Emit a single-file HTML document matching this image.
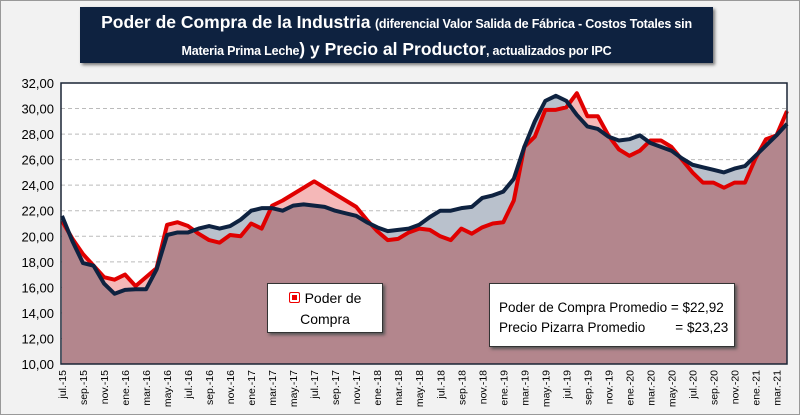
<!DOCTYPE html>
<html><head><meta charset="utf-8"><style>
body{margin:0;background:#fff;font-family:"Liberation Sans",sans-serif}
#wrap{position:relative;width:800px;height:415px;background:#f2f2f2;border:1px solid #999;box-sizing:border-box;overflow:hidden}
#title{position:absolute;left:79px;top:6px;width:633px;height:56px;background:#0e2240;color:#fff;text-align:center;font-weight:bold;box-shadow:2px 2px 3px #777}
.ln{white-space:nowrap;line-height:25px}
.ln1{margin-top:3px}
.b{font-size:17.5px}.s{font-size:12.5px;letter-spacing:-0.2px}
.box{position:absolute;background:#fff;border:1px solid #333;box-shadow:2px 2px 3px #555;color:#000}
</style></head><body>
<div id="wrap">
<div id="title"><div class="ln ln1"><span class="b">Poder de Compra de la Industria</span> <span class="s">(diferencial Valor Salida de Fábrica - Costos Totales sin</span></div><div class="ln"><span class="s">Materia Prima Leche</span><span class="b">) y Precio al Productor</span><span class="s">, actualizados por IPC</span></div></div>
<svg id="svg" width="800" height="415" style="position:absolute;left:0;top:0"></svg>
<div class="box" style="left:266px;top:282px;width:116px;height:50px;font-size:14px;text-align:center;line-height:21px;padding-top:4px;box-sizing:border-box"><span style="display:inline-block;width:9px;height:9px;background:#e00;border:1px solid #e00;border-radius:2px;box-shadow:inset 0 0 0 2px #fff;margin-right:5px"></span>Poder de<br>Compra</div>
<div class="box" style="left:488px;top:282px;width:246px;height:64px;font-size:13.5px;line-height:20px;padding:14px 0 0 9px;box-sizing:border-box;white-space:pre">Poder de Compra Promedio = $22,92
Precio Pizarra Promedio        = $23,23</div>
</div>
<script>
const labels=["jul.-15","sep.-15","nov.-15","ene.-16","mar.-16","may.-16","jul.-16","sep.-16","nov.-16","ene.-17","mar.-17","may.-17","jul.-17","sep.-17","nov.-17","ene.-18","mar.-18","may.-18","jul.-18","sep.-18","nov.-18","ene.-19","mar.-19","may.-19","jul.-19","sep.-19","nov.-19","ene.-20","mar.-20","may.-20","jul.-20","sep.-20","nov.-20","ene.-21","mar.-21"];
const yTicks=[10,12,14,16,18,20,22,24,26,28,30,32];
const poder=[21.2,19.8,18.6,17.7,16.8,16.6,17.0,16.1,16.8,17.5,20.9,21.1,20.8,20.2,19.7,19.5,20.1,20.0,21.0,20.6,22.4,22.8,23.3,23.8,24.3,23.8,23.3,22.8,22.3,21.3,20.4,19.7,19.8,20.3,20.6,20.5,20.0,19.7,20.6,20.2,20.7,21.0,21.1,22.8,27.0,27.8,29.9,29.9,30.1,31.2,29.4,29.4,27.9,26.8,26.3,26.7,27.5,27.5,27.0,26.0,25.0,24.2,24.2,23.8,24.2,24.2,26.1,27.6,27.9,29.8];
const precio=[21.6,19.6,17.9,17.7,16.3,15.5,15.8,15.85,15.85,17.4,20.1,20.3,20.3,20.6,20.8,20.6,20.8,21.3,22.0,22.2,22.2,22.0,22.4,22.5,22.4,22.3,22.0,21.8,21.6,21.1,20.7,20.4,20.5,20.6,20.9,21.5,22.0,22.0,22.2,22.3,23.0,23.2,23.5,24.5,27.0,29.0,30.6,31.0,30.6,29.5,28.6,28.4,27.8,27.5,27.6,27.9,27.3,27.0,26.7,26.1,25.6,25.4,25.2,25.0,25.3,25.5,26.3,27.1,27.9,28.8];
const svg=document.getElementById('svg'),NS='http://www.w3.org/2000/svg';
const L=60,R=786,T=82,B=363,x0=61;
const n=poder.length;
const X=i=>x0+i*(R-x0)/(n-1);
const Y=v=>B-(v-10)*(B-T)/22;
function mk(t,a){const e=document.createElementNS(NS,t);for(const k in a)e.setAttribute(k,a[k]);svg.appendChild(e);return e;}
let e=mk('rect',{x:L,y:T,width:R-L,height:B-T,fill:'#fff'});

yTicks.forEach(v=>{
 if(v>10&&v<32){let g=mk('line',{x1:L,x2:R,y1:Y(v),y2:Y(v),stroke:'#bbb','stroke-dasharray':'4,3'});}
 let t=mk('text',{x:L-7,y:Y(v)+5,'text-anchor':'end','font-size':'13','font-family':'Liberation Sans'});t.textContent=v.toFixed(2).replace('.',',');
 
});
function area(arr){let d='M'+X(0)+','+B;arr.forEach((v,i)=>d+='L'+X(i)+','+Y(v));return d+'L'+X(n-1)+','+B+'Z';}
function line(arr){return arr.map((v,i)=>(i?'L':'M')+X(i)+','+Y(v)).join('');}
const mn=poder.map((v,i)=>Math.min(v,precio[i]));
e=mk('path',{d:area(precio),fill:'#b9c1cc'});
e=mk('path',{d:area(poder),fill:'#f5b8b8'});
e=mk('path',{d:area(mn),fill:'#b3868d'});
e=mk('path',{d:line(poder),fill:'none',stroke:'#e00000','stroke-width':4,'stroke-linejoin':'round'});
e=mk('path',{d:line(precio),fill:'none',stroke:'#0e2240','stroke-width':4,'stroke-linejoin':'round'});
e=mk('rect',{x:L,y:T,width:R-L,height:B-T,fill:'none',stroke:'#1a2435','stroke-width':1.5});
labels.forEach((s,k)=>{const x=X(k*2);let t=mk('text',{transform:`translate(${x+4},${B+6}) rotate(-90)`,'text-anchor':'end','font-size':'10.5','font-family':'Liberation Sans'});t.textContent=s;
 });
</script>
</body></html>
